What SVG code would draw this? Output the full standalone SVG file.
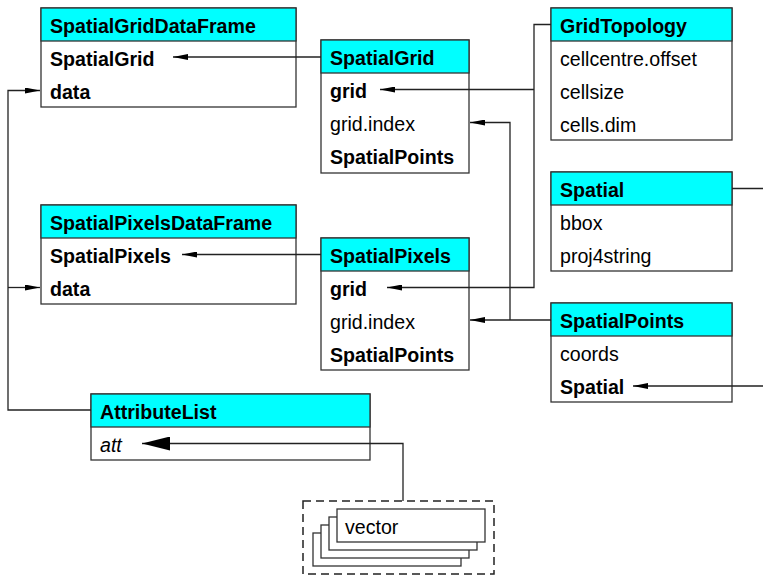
<svg xmlns="http://www.w3.org/2000/svg" width="763" height="575" viewBox="0 0 763 575">
  <style>
    .box { fill: #ffffff; stroke: #333333; stroke-width: 1.3; }
    .hdr { fill: #00ffff; stroke: #333333; stroke-width: 1.3; }
    text { font-family: "Liberation Sans", Arial, Helvetica, sans-serif; font-size: 19.6px; fill: #000000; }
    .b { font-weight: bold; }
    .i { font-style: italic; }
    .link { fill: none; stroke: #222222; stroke-width: 1.3; }
    .dash { fill: none; stroke: #222222; stroke-width: 1.5; stroke-dasharray: 8 5; }
  </style>
  <defs>
    <marker id="arrow" viewBox="0 0 15 6" markerWidth="15" markerHeight="6" refX="15" refY="3" orient="auto" markerUnits="userSpaceOnUse">
      <path d="M0,0 L15,3 L0,6 Z" fill="#000000"/>
    </marker>
    <marker id="arrowBig" viewBox="0 0 28 14" markerWidth="28" markerHeight="14" refX="28" refY="7" orient="auto" markerUnits="userSpaceOnUse">
      <path d="M0,0 L28,7 L0,14 Z" fill="#000000"/>
    </marker>
  </defs>

  <!-- SpatialGridDataFrame -->
  <g id="SpatialGridDataFrame">
    <rect class="box" x="41" y="8" width="255" height="99"/>
    <rect class="hdr" x="41" y="8" width="255" height="33"/>
    <text class="b" x="50" y="32.5">SpatialGridDataFrame</text>
    <text class="b" x="50" y="65.5">SpatialGrid</text>
    <text class="b" x="50" y="98.5">data</text>
  </g>

  <!-- SpatialGrid -->
  <g id="SpatialGrid">
    <rect class="box" x="321" y="40" width="148" height="133"/>
    <rect class="hdr" x="321" y="40" width="148" height="33"/>
    <text class="b" x="330" y="64.5">SpatialGrid</text>
    <text class="b" x="330" y="97.5">grid</text>
    <text x="330" y="130.5">grid.index</text>
    <text class="b" x="330" y="163.5">SpatialPoints</text>
  </g>

  <!-- GridTopology -->
  <g id="GridTopology">
    <rect class="box" x="551" y="8" width="181" height="132"/>
    <rect class="hdr" x="551" y="8" width="181" height="33"/>
    <text class="b" x="560" y="32.5">GridTopology</text>
    <text x="560" y="65.5">cellcentre.offset</text>
    <text x="560" y="98.5">cellsize</text>
    <text x="560" y="131.5">cells.dim</text>
  </g>

  <!-- Spatial -->
  <g id="Spatial">
    <rect class="box" x="551" y="172" width="181" height="99"/>
    <rect class="hdr" x="551" y="172" width="181" height="33"/>
    <text class="b" x="560" y="196.5">Spatial</text>
    <text x="560" y="229.5">bbox</text>
    <text x="560" y="262.5">proj4string</text>
  </g>

  <!-- SpatialPixelsDataFrame -->
  <g id="SpatialPixelsDataFrame">
    <rect class="box" x="41" y="205" width="255" height="99"/>
    <rect class="hdr" x="41" y="205" width="255" height="33"/>
    <text class="b" x="50" y="229.5">SpatialPixelsDataFrame</text>
    <text class="b" x="50" y="262.5">SpatialPixels</text>
    <text class="b" x="50" y="295.5">data</text>
  </g>

  <!-- SpatialPixels -->
  <g id="SpatialPixels">
    <rect class="box" x="321" y="238" width="148" height="132"/>
    <rect class="hdr" x="321" y="238" width="148" height="33"/>
    <text class="b" x="330" y="262.5">SpatialPixels</text>
    <text class="b" x="330" y="295.5">grid</text>
    <text x="330" y="328.5">grid.index</text>
    <text class="b" x="330" y="361.5">SpatialPoints</text>
  </g>

  <!-- SpatialPoints -->
  <g id="SpatialPoints">
    <rect class="box" x="551" y="303" width="181" height="99"/>
    <rect class="hdr" x="551" y="303" width="181" height="33"/>
    <text class="b" x="560" y="327.5">SpatialPoints</text>
    <text x="560" y="360.5">coords</text>
    <text class="b" x="560" y="393.5">Spatial</text>
  </g>

  <!-- AttributeList -->
  <g id="AttributeList">
    <rect class="box" x="91" y="394" width="279" height="66"/>
    <rect class="hdr" x="91" y="394" width="279" height="33"/>
    <text class="b" x="100" y="418.5">AttributeList</text>
    <text class="i" x="100" y="451.5">att</text>
  </g>

  <!-- vector: stack of list elements inside a dashed frame -->
  <g id="vector">
    <rect class="dash" x="303" y="501" width="191" height="73"/>
    <rect class="box" x="313" y="533" width="148" height="33"/>
    <rect class="box" x="321" y="525" width="148" height="33"/>
    <rect class="box" x="329" y="517" width="148" height="33"/>
    <rect class="box" x="337" y="509" width="148" height="33"/>
    <text x="345" y="533.5">vector</text>
  </g>

  <!-- connectors, drawn over the boxes so the arrows reach into the slots -->
  <g id="connectors">
    <path class="link" d="M321,57 H173" marker-end="url(#arrow)"/>
    <path class="link" d="M321,254.5 H182" marker-end="url(#arrow)"/>
    <path class="link" d="M551,24.5 H534 V287.5 H387" marker-end="url(#arrow)"/>
    <path class="link" d="M534,89.5 H380" marker-end="url(#arrow)"/>
    <path class="link" d="M551,320 H470" marker-end="url(#arrow)"/>
    <path class="link" d="M510,320 V122.5 H470" marker-end="url(#arrow)"/>
    <path class="link" d="M732,188.5 H780 V386 H633" marker-end="url(#arrow)"/>
    <path class="link" d="M91,410 H8 V90.5 H40" marker-end="url(#arrow)"/>
    <path class="link" d="M8,287.5 H40" marker-end="url(#arrow)"/>
    <path class="link" d="M403,501 V443.5 H142" marker-end="url(#arrowBig)"/>
  </g>
</svg>
